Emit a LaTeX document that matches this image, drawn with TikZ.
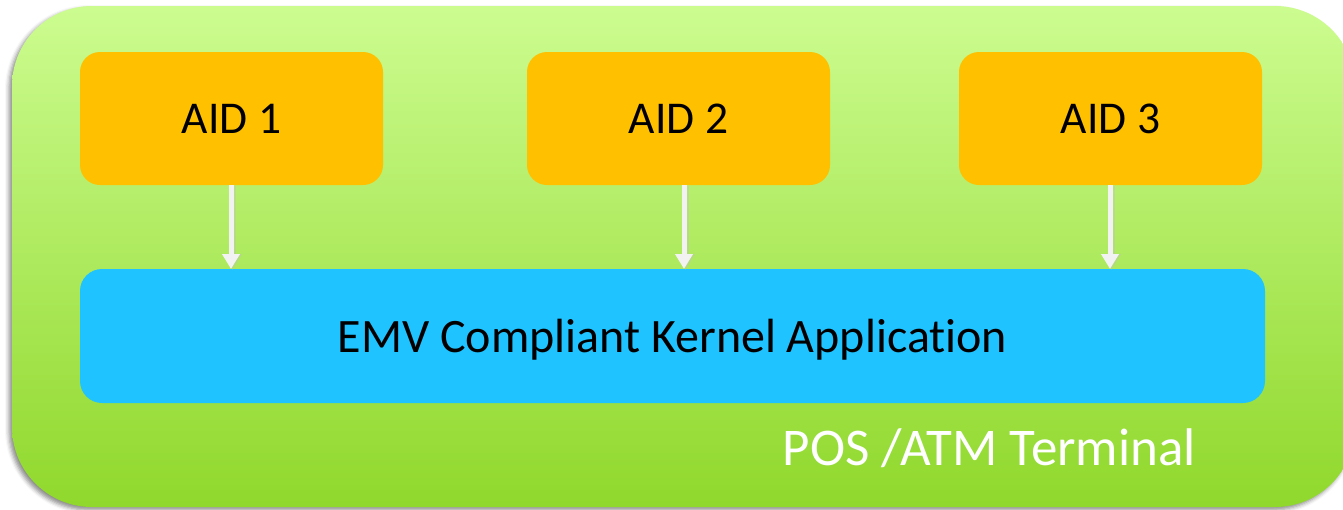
\documentclass[tikz,border=0pt]{standalone}
\usepackage{fontspec}
\setmainfont{Carlito}[Ligatures={NoCommon}]
\usetikzlibrary{arrows.meta,shadows.blur}
\definecolor{termtop}{HTML}{CCFC90}
\definecolor{termbot}{HTML}{90D82C}
\definecolor{aidfill}{HTML}{FFC000}
\definecolor{kernfill}{HTML}{1FC3FF}
\definecolor{flowline}{HTML}{F2F2F2}
\tikzset{
  aidbox/.style={fill=aidfill, rounded corners=20pt, minimum width=303pt,
    minimum height=133pt, inner sep=0pt, font=\fontsize{45.5}{52}\selectfont},
  kernbox/.style={fill=kernfill, rounded corners=22pt, minimum width=1185pt,
    minimum height=134pt, inner sep=0pt},
  flow/.style={draw=flowline, line width=5pt,
    -{Triangle[width=17pt,length=15pt]}, shorten >=0pt},
  flowshadow/.style={draw=black!25, line width=6pt, opacity=0.5,
    -{Triangle[width=18pt,length=16pt]}},
}
\begin{document}
\begin{tikzpicture}[x=1pt,y=-1pt]
\useasboundingbox (0,0) rectangle (1343,509);
\clip (0,0) rectangle (1343,509);
% terminal body
\shade[top color=termtop, bottom color=termbot, rounded corners=80pt,
  blur shadow={shadow xshift=-3pt, shadow yshift=-3pt, shadow blur radius=4pt,
  shadow opacity=45}]
  (12,6) rectangle (1355,507);
% applications
\node[aidbox] (aid1) at (231.5,118.5) {AID 1};
\node[aidbox] (aid2) at (678.5,118.5) {AID 2};
\node[aidbox] (aid3) at (1110.5,118.5) {AID 3};
% kernel
\node[kernbox] (kern) at (672.5,336) {};
\node[anchor=base, inner sep=0pt, font=\fontsize{48}{54}\selectfont]
  (kerntext) at (672.5,352) {EMV Compliant Kernel Application};
% flows from each AID into the kernel
\foreach \a/\x in {aid1/231,aid2/684,aid3/1110}{
  \coordinate (s-\a) at (\x,185);
  \coordinate (e-\a) at (\x,269);
  \draw[flowshadow, opacity=0.35] ([xshift=1.5pt,yshift=-1pt]s-\a) -- ([xshift=1.5pt,yshift=-1pt]e-\a);
  \draw[flow] (s-\a) -- (e-\a);
}
% terminal label
\node[text=white, anchor=base east, inner sep=0pt,
  font=\fontsize{53}{60}\selectfont] (term) at (1196,465) {POS /ATM Terminal};
\end{tikzpicture}
\end{document}
